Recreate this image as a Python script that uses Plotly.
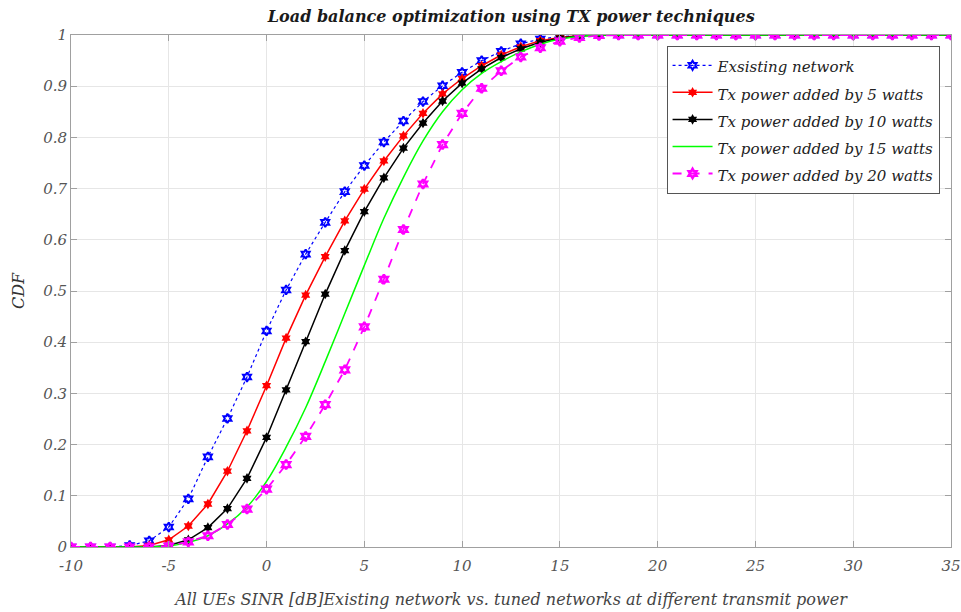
import plotly.graph_objects as go

x = list(range(-10, 36))

existing = [0, 0, 0, 0.003, 0.012, 0.039, 0.094, 0.176, 0.251, 0.332, 0.422, 0.502, 0.572, 0.634, 0.694,
            0.745, 0.791, 0.832, 0.870, 0.901, 0.927, 0.950, 0.968, 0.983, 0.992, 0.997, 0.999] + [1] * 19
tx5 = [0, 0, 0, 0, 0.003, 0.014, 0.041, 0.084, 0.148, 0.227, 0.315, 0.408, 0.492, 0.567, 0.637,
       0.699, 0.754, 0.803, 0.847, 0.885, 0.915, 0.940, 0.961, 0.977, 0.989, 0.995, 0.999] + [1] * 19
tx10 = [0, 0, 0, 0, 0, 0.003, 0.014, 0.038, 0.075, 0.134, 0.214, 0.307, 0.401, 0.494, 0.579,
        0.655, 0.721, 0.779, 0.828, 0.871, 0.906, 0.934, 0.956, 0.973, 0.986, 0.994, 0.998] + [1] * 19
tx15 = [0, 0, 0, 0, 0, 0.002, 0.009, 0.022, 0.045, 0.078, 0.128, 0.195, 0.272, 0.362, 0.456,
        0.550, 0.642, 0.722, 0.793, 0.850, 0.893, 0.925, 0.948, 0.967, 0.982, 0.992, 0.997, 1] + [1] * 18
tx20 = [0, 0, 0, 0, 0, 0.002, 0.010, 0.022, 0.044, 0.074, 0.113, 0.161, 0.216, 0.278, 0.346,
        0.430, 0.523, 0.620, 0.709, 0.786, 0.847, 0.896, 0.930, 0.957, 0.975, 0.988, 0.995, 0.999] + [1] * 18

names = ["Exsisting network", "Tx power added by 5 watts", "Tx power added by 10 watts",
         "Tx power added by 15 watts", "Tx power added by 20 watts"]
xticks = list(range(-10, 36, 5))
yticks = [0, 0.1, 0.2, 0.3, 0.4, 0.5, 0.6, 0.7, 0.8, 0.9, 1]
ylabels = ["0", "0.1", "0.2", "0.3", "0.4", "0.5", "0.6", "0.7", "0.8", "0.9", "1"]

FONT = "DejaVu Serif"


def lname(s):
    return "<span style='font-size:15px'><i>" + s + "</i></span>"


fig = go.Figure()
fig.add_trace(go.Scatter(x=x, y=existing, name=lname(names[0]), mode="lines+markers",
                         line=dict(color="#0000ff", width=1.2, dash="dot"),
                         marker=dict(symbol="hexagram-open", size=7, color="#0000ff", line=dict(width=2))))
fig.add_trace(go.Scatter(x=x, y=tx5, name=lname(names[1]), mode="lines+markers",
                         line=dict(color="#ff0000", width=1.5),
                         marker=dict(symbol="hexagram", size=8, color="#ff0000")))
fig.add_trace(go.Scatter(x=x, y=tx10, name=lname(names[2]), mode="lines+markers",
                         line=dict(color="#000000", width=1.5),
                         marker=dict(symbol="hexagram", size=8, color="#000000")))
fig.add_trace(go.Scatter(x=x, y=tx15, name=lname(names[3]), mode="lines",
                         line=dict(color="#00ff00", width=1.5, shape="spline")))
fig.add_trace(go.Scatter(x=x, y=tx20, name=lname(names[4]), mode="lines+markers",
                         line=dict(color="#ff00ff", width=1.8, dash="dash"),
                         marker=dict(symbol="hexagram-open", size=7, color="#ff00ff", line=dict(width=2.5))))

axis_common = dict(showgrid=True, gridcolor="#e6e6e6", gridwidth=1, showline=True, linecolor="#a0a0a0",
                   linewidth=1, mirror="ticks", ticks="inside", ticklen=6, tickcolor="#a0a0a0",
                   zeroline=False, automargin=False,
                   tickfont=dict(family=FONT, size=15, color="#555555"))

fig.update_layout(
    width=961, height=612,
    margin=dict(l=71, r=10, t=35, b=65),
    paper_bgcolor="white", plot_bgcolor="white",
    title=dict(text="<b><i>Load balance optimization using TX power techniques</i></b>",
               x=0.532, xanchor="center", y=0.983, yanchor="top",
               font=dict(family=FONT, size=16, color="#1a1a1a")),
    xaxis=dict(range=[-10, 35], tickvals=xticks,
               ticktext=["<i>%d</i>" % v for v in xticks], ticklabelstandoff=5,
               title=dict(text="<i>All UEs SINR [dB]Existing network vs. tuned networks at different transmit power</i>",
                          font=dict(family=FONT, size=16, color="#444444"), standoff=19),
               **axis_common),
    yaxis=dict(range=[0, 1], tickvals=yticks,
               ticktext=["<i>%s</i>" % s for s in ylabels],
               title=dict(text="<i>CDF</i>", font=dict(family=FONT, size=16, color="#333333"), standoff=14),
               **axis_common),
    legend=dict(x=0.987, xanchor="right", y=0.979, yanchor="top", bgcolor="white",
                bordercolor="#555555", borderwidth=1,
                font=dict(family=FONT, size=18.5, color="#222222"), tracegroupgap=0,
                itemwidth=40),
    showlegend=True,
)

fig.write_html("out.html")
